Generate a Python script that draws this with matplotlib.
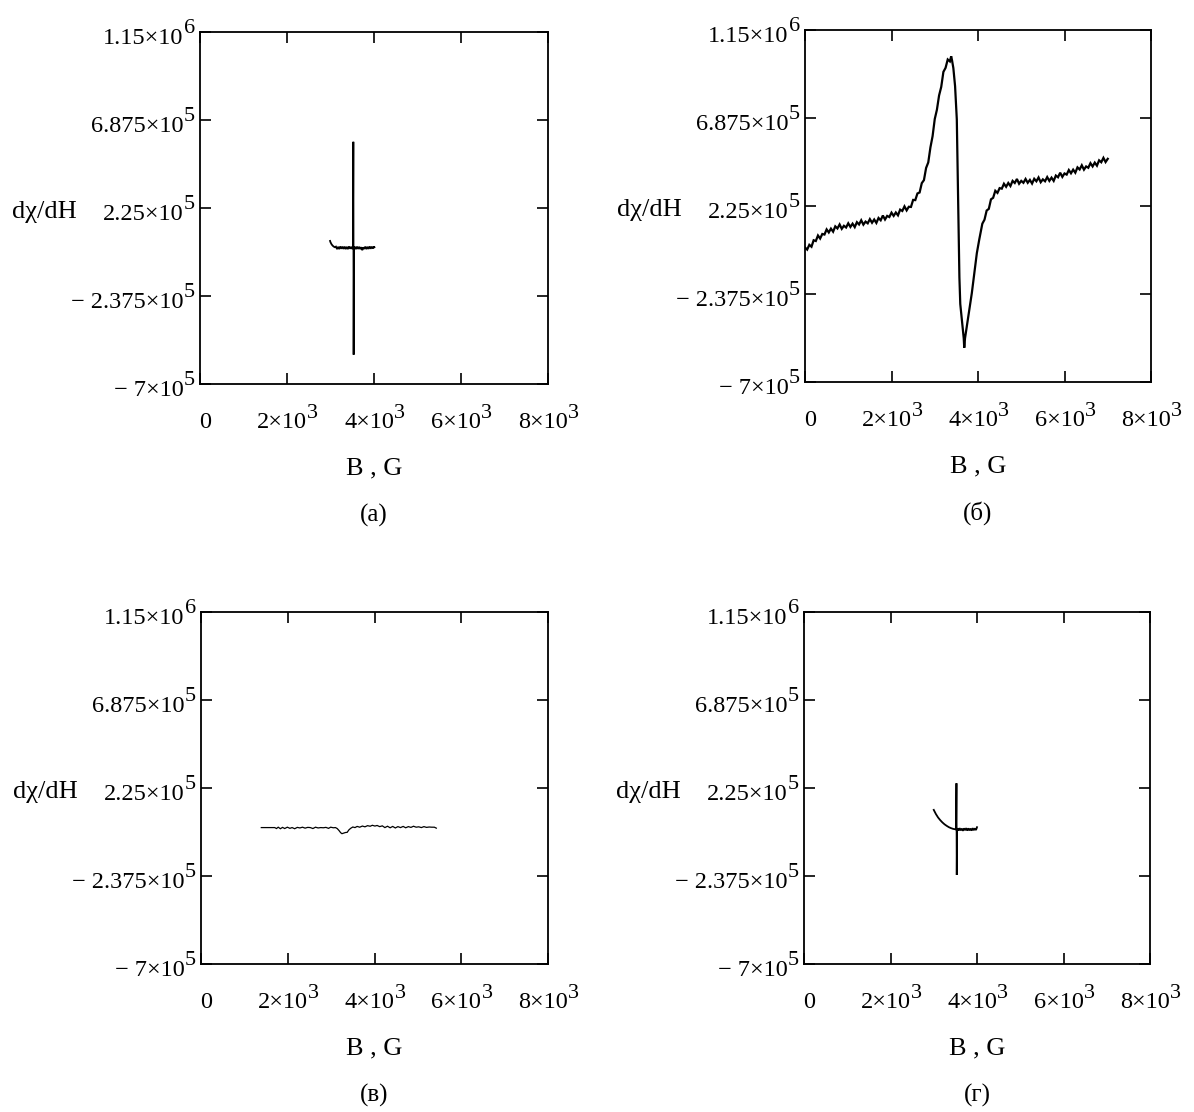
import numpy as np
import matplotlib
matplotlib.use("Agg")
import matplotlib.pyplot as plt
from matplotlib.transforms import ScaledTranslation

plt.rcParams['font.family'] = ['Liberation Serif', 'DejaVu Serif']

# ---------------- data (field in G, signal in units of 1e3) ----------------
x_ticks = [0, 2000, 4000, 6000, 8000]
x_tick_mant = ["0", "2×10", "4×10", "6×10", "8×10"]
x_tick_exp = ["", "3", "3", "3", "3"]
y_ticks = [-7e5, -2.375e5, 2.25e5, 6.875e5, 1.15e6]
y_tick_mant = ["\u2212 7×10", "\u2212 2.375×10", "2.25×10", "6.875×10", "1.15×10"]
y_tick_exp = ["5", "5", "5", "5", "6"]
x_label = "B , G"
y_label = "dχ/dH"
panel_labels = ["(а)", "(б)", "(в)", "(г)"]

# (a)
a_x = [2990, 3000, 3025, 3050, 3075, 3100, 3125, 3150, 3175, 3200, 3225, 3250,
       3275, 3300, 3325, 3350, 3375, 3400, 3425, 3450, 3475, 3500, 3515,
       3525, 3532, 3540, 3560, 3585, 3610, 3635, 3660, 3685, 3710, 3730, 3750,
       3775, 3800, 3825, 3850, 3875, 3900, 3925, 3950, 3975, 4000, 4010]
a_y = [52, 45, 34, 27, 22, 19, 22, 9, 21, 9, 23, 11,
       22, 10, 22, 9, 21, 9, 23, 11, 21, 10, 16,
       573, -546, 15, 21, 9, 22, 10, 21, 9, 19, 3, 18,
       10, 22, 9, 21, 10, 23, 11, 22, 12, 23, 19]

# (b)
b_x = list(range(0, 3350, 50)) + [3350, 3380, 3400, 3430, 3470, 3510, 3530,
       3548, 3570, 3590, 3620, 3650, 3670, 3682, 3700, 3740, 3800, 3857, 3920,
       3973, 4030] + list(range(4100, 7050, 50))
b_y = [7, -4, 21, 11, 45, 41, 70, 54, 78, 75,
       102, 86, 106, 90, 118, 107, 128, 105, 121, 112,
       134, 115, 132, 114, 140, 128, 150, 127, 143, 134,
       156, 137, 154, 136, 162, 150, 175, 154, 173, 167,
       190, 173, 191, 176, 206, 199, 223, 202, 221, 220,
       257, 256, 291, 296, 345, 361, 425, 454, 533, 592,
       682, 731, 806, 851, 930, 951, 995,
       985, 1012, 990, 950, 855, 680, 400,
       150, -150, -290, -360, -425, -470, -520, -470, -410, -320, -233, -120,
       -23, 50,
       132, 153, 201, 210, 260, 268, 305, 294, 319, 316,
       342, 326, 346, 330, 357, 346, 367, 342, 357, 347,
       367, 347, 362, 343, 368, 355, 375, 350, 365, 355,
       377, 357, 374, 357, 385, 376, 400, 378, 396, 390,
       414, 397, 416, 400, 428, 417, 439, 416, 433, 426,
       450, 433, 453, 437, 465, 455, 478, 456, 473]

# (c)
c_x = [1390, 1500, 1600, 1700, 1740, 1780, 1830, 1880, 1930, 1990, 2050, 2100,
       2160, 2220, 2280, 2340, 2400, 2460, 2520, 2580, 2640, 2700, 2760, 2820,
       2880, 2940, 2990, 3050, 3100, 3140, 3180, 3220, 3250, 3290, 3330, 3370,
       3410, 3450, 3500, 3550, 3600, 3660, 3720, 3780, 3840, 3900, 3950, 4010,
       4060, 4120, 4180, 4240, 4300, 4360, 4420, 4480, 4540, 4600, 4660, 4720,
       4780, 4840, 4900, 4960, 5020, 5080, 5140, 5200, 5260, 5320, 5380, 5425]
c_y = [17, 17, 17, 17, 12, 19, 11, 18, 12, 19, 13, 17,
       11, 18, 15, 19, 14, 18, 17, 12, 19, 15, 17, 16,
       18, 13, 19, 16, 17, 12, 2, -10, -15, -12, -9, -8,
       5, 13, 20, 17, 23, 19, 25, 21, 27, 24, 29, 25,
       28, 22, 26, 17, 24, 16, 23, 15, 22, 17, 23, 16,
       22, 18, 24, 19, 21, 17, 22, 18, 20, 19, 19, 14]

# (d)
d_x = [3000, 3050, 3100, 3150, 3200, 3250, 3300, 3350, 3400, 3450, 3500, 3515,
       3525, 3532, 3540, 3550, 3575, 3600, 3625, 3650, 3675, 3700, 3725, 3750,
       3775, 3800, 3825, 3850, 3875, 3900, 3925, 3950, 3975, 3990, 4000]
d_y = [110, 88, 70, 56, 44, 34, 26, 19, 14, 10, 8, 7,
       250, -232, 8, 13, 1, 14, 2, 12, 0, 13, 3, 14,
       1, 13, 2, 12, 1, 14, 3, 13, 4, 12, 19]

series = [(a_x, a_y, 1.3), (b_x, b_y, 1.6), (c_x, c_y, 0.9), (d_x, d_y, 1.3)]

# ---------------- layout ----------------
W, H = 1194, 1112
boxes = [(200, 32, 548, 384), (805, 30, 1151, 382),
         (201, 612, 548, 964), (804, 612, 1150, 964)]
TICK_FS = 17.5
SUP_FS = 16
LAB_FS = 19

fig = plt.figure(figsize=(W / 100, H / 100), dpi=100)


def shift(dx_px, dy_px):
    return ScaledTranslation(dx_px / 100, dy_px / 100, fig.dpi_scale_trans)


for (l, t, r, b), (xs, ys, lw), plab in zip(boxes, series, panel_labels):
    ax = fig.add_axes([l / W, 1 - b / H, (r - l) / W, (b - t) / H])
    ax.plot(xs, np.asarray(ys, dtype=float) * 1e3, color='black', lw=lw,
            solid_joinstyle='miter')
    ax.set_xlim(0, 8000)
    ax.set_ylim(-7e5, 1.15e6)
    ax.set_xticks(x_ticks)
    ax.set_xticklabels(x_tick_mant)
    ax.set_yticks(y_ticks)
    ax.set_yticklabels(y_tick_mant)
    ax.tick_params(direction='in', length=8, width=1.2, top=True, right=True,
                   labelsize=TICK_FS, colors='black')
    ax.tick_params(axis='x', pad=20)
    ax.tick_params(axis='y', pad=12)
    for sp in ax.spines.values():
        sp.set_linewidth(1.3)
        sp.set_color('black')

    for lab, e in zip(ax.get_xticklabels(), x_tick_exp):
        dx = 5 if e == "" else -5
        lab.set_transform(lab.get_transform() + shift(dx, 0))
        if e:
            ax.annotate(e, xy=(1.0, 0.72), xycoords=lab, xytext=(0.3, 0),
                        textcoords='offset points', ha='left',
                        va='baseline', fontsize=SUP_FS, annotation_clip=False)
    for lab, e in zip(ax.get_yticklabels(), y_tick_exp):
        lab.set_transform(lab.get_transform() + shift(0, -3.5))
        ax.annotate(e, xy=(1.0, 0.72), xycoords=lab, xytext=(0.3, 0),
                    textcoords='offset points', ha='left',
                    va='baseline', fontsize=SUP_FS, annotation_clip=False)

    hpx = b - t
    wpx = r - l
    ax.text(0.5, -84 / hpx, x_label, transform=ax.transAxes, ha='center',
            va='center', fontsize=LAB_FS)
    ax.text(0.5, -131 / hpx, plab, transform=ax.transAxes, ha='center',
            va='center', fontsize=LAB_FS - 1)
    ax.text(-156 / wpx, 0.49, y_label, transform=ax.transAxes, ha='center',
            va='center', fontsize=LAB_FS)

fig.canvas.draw()
fig.savefig("out.png", dpi=100)
